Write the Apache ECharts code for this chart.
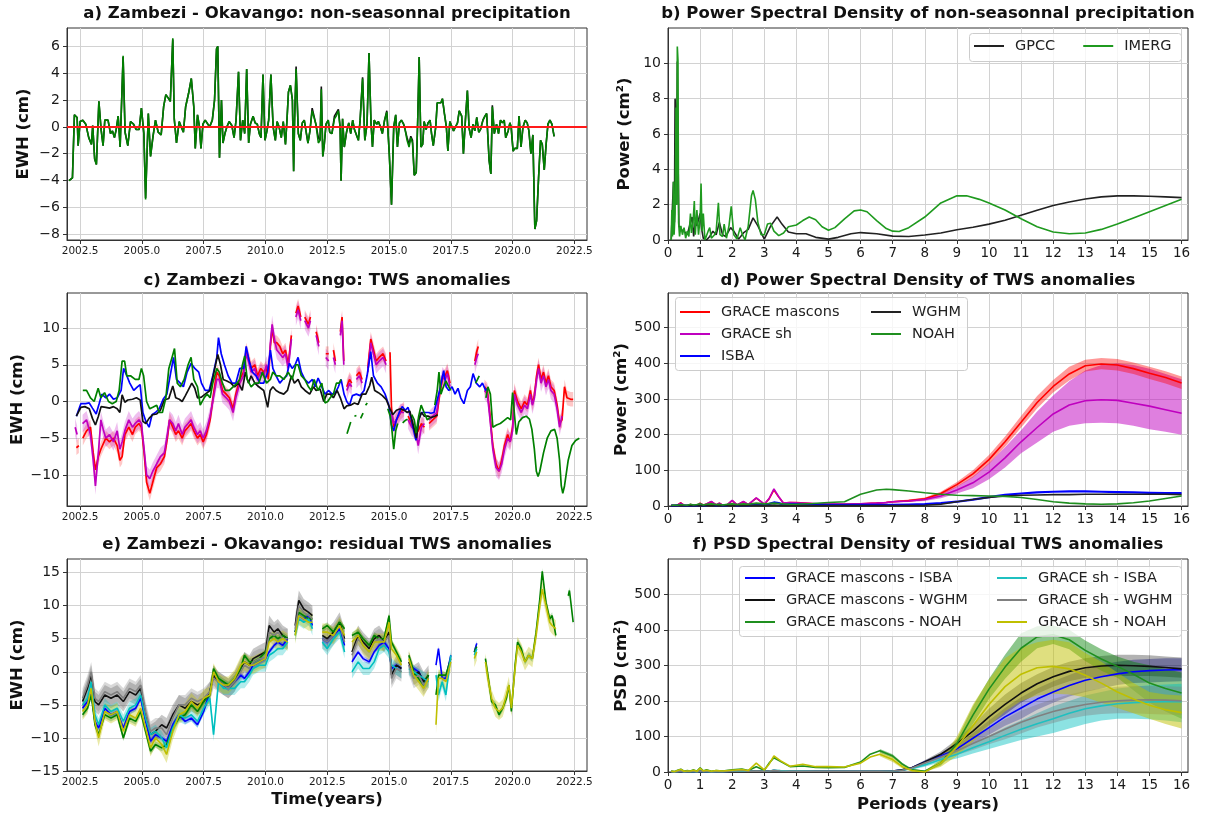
<!DOCTYPE html>
<html><head><meta charset="utf-8">
<script src="https://cdn.jsdelivr.net/npm/echarts@6/dist/echarts.min.js"></script>
<style>html,body{margin:0;padding:0;background:#fff}#c{width:1212px;height:816px}</style>
</head><body><div id="c"></div>
<script>
// ================= DATA =================
const yearTicks = [2002.5, 2005, 2007.5, 2010, 2012.5, 2015, 2017.5, 2020, 2022.5];
const periodTicks = [0,1,2,3,4,5,6,7,8,9,10,11,12,13,14,15,16];
const aTicks = [-8,-6,-4,-2,0,2,4,6];
const bTicks = [0,2,4,6,8,10];
const cTicks = [-10,-5,0,5,10];
const dTicks = [0,100,200,300,400,500];
const eTicks = [-15,-10,-5,0,5,10,15];
const fTicks = [0,100,200,300,400,500];

// ---- a) non-seasonal precipitation (cm) ----
const aTime = [
2002.05,2002.19,2002.27,2002.38,2002.42,2002.50,2002.61,2002.73,2002.85,2002.96,
2003.01,2003.09,2003.16,2003.26,2003.35,2003.43,2003.50,2003.63,2003.73,2003.81,
2003.89,2003.96,2004.04,2004.12,2004.24,2004.32,2004.43,2004.54,2004.66,2004.77,
2004.89,2004.98,2005.08,2005.15,2005.26,2005.35,2005.45,2005.55,2005.66,2005.78,
2005.88,2005.97,2006.08,2006.15,2006.25,2006.31,2006.40,2006.51,2006.59,2006.68,
2006.77,2006.89,2007.00,2007.10,2007.16,2007.25,2007.33,2007.39,2007.47,2007.56,
2007.67,2007.74,2007.85,2007.94,2008.02,2008.07,2008.14,2008.22,2008.28,2008.36,
2008.44,2008.53,2008.64,2008.73,2008.81,2008.91,2008.99,2009.08,2009.16,2009.24,
2009.32,2009.39,2009.50,2009.58,2009.67,2009.75,2009.82,2009.90,2009.98,2010.06,
2010.13,2010.22,2010.31,2010.40,2010.47,2010.55,2010.64,2010.72,2010.81,2010.87,
2010.93,2011.01,2011.09,2011.14,2011.18,2011.24,2011.33,2011.41,2011.49,2011.57,
2011.64,2011.72,2011.80,2011.89,2011.97,2012.04,2012.14,2012.21,2012.26,2012.32,
2012.38,2012.45,2012.54,2012.60,2012.69,2012.79,2012.86,2012.95,2013.02,2013.06,
2013.12,2013.19,2013.28,2013.37,2013.45,2013.53,2013.60,2013.68,2013.76,2013.83,
2013.93,2014.02,2014.11,2014.19,2014.27,2014.33,2014.40,2014.50,2014.57,2014.65,
2014.73,2014.82,2014.91,2015.01,2015.10,2015.19,2015.27,2015.34,2015.42,2015.50,
2015.59,2015.65,2015.73,2015.81,2015.88,2015.95,2016.02,2016.10,2016.16,2016.22,
2016.29,2016.36,2016.42,2016.50,2016.58,2016.66,2016.72,2016.79,2016.89,2016.95,
2017.03,2017.10,2017.16,2017.24,2017.32,2017.38,2017.46,2017.53,2017.61,2017.69,
2017.77,2017.84,2017.94,2018.01,2018.09,2018.17,2018.24,2018.32,2018.40,2018.47,
2018.55,2018.63,2018.70,2018.80,2018.88,2018.95,2019.05,2019.12,2019.18,2019.26,
2019.35,2019.43,2019.51,2019.59,2019.66,2019.72,2019.82,2019.89,2019.94,2020.02,
2020.09,2020.19,2020.26,2020.34,2020.42,2020.51,2020.59,2020.66,2020.74,2020.82,
2020.90,2020.97,2021.05,2021.13,2021.20,2021.28,2021.36,2021.43,2021.51,2021.59,
2021.68];
const aImerg = [
-4.0,-3.8,0.9,0.7,-1.4,0.4,0.5,0.2,-0.8,-1.3,
0.1,-2.4,-2.8,1.9,-0.2,-1.4,0.5,0.5,-0.5,-0.3,
-0.8,-0.2,0.8,-1.5,5.3,-0.4,-1.4,0.4,0.2,-0.2,
-0.2,1.4,-0.5,-5.4,1.0,-2.2,-0.7,0.5,-0.4,-0.6,
1.5,2.4,2.1,1.9,6.6,0.6,-1.2,0.4,0.0,-0.4,
1.5,2.5,3.6,1.5,-1.6,0.9,0.0,-1.6,0.2,0.5,
0.2,0.0,0.5,2.0,5.8,6.0,-2.3,2.0,-1.2,-0.5,
0.0,0.4,0.1,-0.8,0.5,4.1,-1.0,0.5,-0.5,4.3,
-1.2,0.2,0.8,0.3,0.2,-0.5,-0.8,3.9,-1.0,-0.3,
0.5,3.9,0.0,-1.0,0.4,0.0,-0.8,0.4,-1.3,0.5,
2.6,3.1,2.0,-3.3,0.6,4.3,-0.5,-1.0,0.3,0.5,
-0.3,-1.2,-0.3,1.2,1.2,0.2,-1.2,-1.0,2.8,-2.2,
-1.3,0.2,0.5,-0.4,-0.5,0.6,0.8,1.2,0.0,-4.0,
0.6,-1.5,-0.4,0.3,-0.5,0.5,-0.2,-0.3,-1.0,0.5,
3.6,-1.0,0.2,5.5,0.3,-1.5,0.5,0.2,0.4,0.0,
-0.5,0.5,1.1,-2.0,-5.8,0.0,0.9,-1.5,0.3,0.5,
0.2,-0.2,-1.0,-1.5,-0.8,-1.2,-3.6,-3.4,0.5,5.2,
-1.5,-1.3,0.4,-0.2,0.3,0.5,-0.5,-1.4,0.0,1.8,
1.7,1.8,2.1,1.0,0.0,-1.8,0.4,0.4,-0.3,-0.3,
0.3,1.2,0.8,-2.0,0.5,2.7,-0.1,-0.8,0.2,-0.3,
0.7,-0.4,-0.2,0.5,0.8,1.0,-2.5,-3.5,1.5,-0.5,
0.2,-0.5,0.5,0.3,0.5,-0.8,-0.3,0.3,0.0,-1.8,
-1.6,-1.6,0.8,-1.5,0.0,0.5,0.3,-0.3,-2.0,-0.6,
-7.6,-7.0,-3.8,-1.0,-1.3,-3.2,-1.2,0.2,0.5,0.2,
-0.7];
const aGpcc = [
-4.0,-3.8,0.9,0.7,-1.4,0.4,0.5,0.2,-0.8,-1.3,
0.1,-2.4,-2.8,1.9,-0.2,-1.4,0.5,0.5,-0.5,-0.3,
-0.8,-0.2,0.8,-1.5,5.2,-0.4,-1.4,0.4,0.2,-0.2,
-0.2,1.4,-0.5,-5.3,1.0,-2.2,-0.7,0.5,-0.4,-0.6,
1.5,2.4,2.1,1.9,6.5,0.6,-1.2,0.4,0.0,-0.4,
1.5,2.5,3.6,1.5,-1.6,0.9,0.0,-1.6,0.2,0.5,
0.2,0.0,0.5,2.0,5.8,6.0,-2.3,2.0,-1.2,-0.5,
0.0,0.4,0.1,-0.8,0.5,4.1,-1.0,0.5,-0.5,4.3,
-1.2,0.2,0.8,0.3,0.2,-0.5,-0.8,3.9,-1.0,-0.3,
0.5,3.9,0.0,-1.0,0.4,0.0,-0.8,0.4,-1.3,0.5,
2.6,3.1,2.0,-3.3,0.6,4.5,-0.5,-1.0,0.3,0.5,
-0.3,-1.2,-0.3,1.4,1.4,0.2,-0.8,-1.0,3.0,-2.2,
-1.3,0.2,0.5,-0.4,-0.5,0.8,0.9,1.3,0.0,-4.0,
0.6,-1.5,-0.4,0.3,-0.5,0.5,-0.2,-0.3,-1.0,0.5,
3.7,-1.0,0.2,5.5,0.3,-1.5,0.5,0.2,0.4,0.0,
-0.5,0.5,1.2,-2.0,-5.8,0.0,0.9,-1.5,0.3,0.5,
0.2,-0.2,-0.8,-1.3,-0.7,-1.0,-3.6,-3.4,0.5,5.2,
-1.5,-1.3,0.4,-0.2,0.3,0.5,-0.5,-1.4,0.0,1.8,
1.7,1.8,2.1,1.0,0.0,-1.8,0.4,0.4,-0.3,-0.3,
0.3,1.2,0.8,-2.0,0.5,2.7,-0.1,-0.8,0.2,-0.3,
0.7,-0.4,-0.2,0.5,0.8,1.0,-2.5,-3.5,1.6,-0.5,
0.2,-0.5,0.5,0.3,0.5,-0.8,-0.3,0.3,0.0,-1.8,
-1.6,-1.6,0.8,-1.5,0.0,0.5,0.3,-0.3,-2.0,-0.6,
-7.6,-7.0,-3.8,-1.0,-1.3,-3.2,-1.2,0.2,0.5,0.2,
-0.7];

// ---- b) PSD of precipitation: [period (years), power (cm^2)] ----
const bImerg = [[0.1,0],[0.12,1.7],[0.14,0.2],[0.17,3.3],[0.19,0.3],[0.22,1.5],[0.25,7.5],[0.27,2],[0.29,10.95],[0.31,10.2],[0.33,1.0],[0.36,0.2],[0.4,0.8],[0.45,0.3],[0.5,0.7],[0.55,0.1],[0.6,0.5],[0.65,0.2],[0.7,1.5],[0.73,0.4],[0.78,1.0],[0.82,2.2],[0.85,0.3],[0.9,1.7],[0.95,0.3],[1.0,1.2],[1.03,3.2],[1.06,0.5],[1.1,1.5],[1.15,0.0],[1.25,0.5],[1.3,0.7],[1.35,0.1],[1.45,0.3],[1.5,0.5],[1.57,2.1],[1.62,0.3],[1.7,0.2],[1.75,0.9],[1.82,0.1],[1.9,0.8],[1.97,1.9],[2.05,0.3],[2.15,0.05],[2.25,0.7],[2.32,0.3],[2.4,0.0],[2.5,0.8],[2.6,2.5],[2.65,2.8],[2.72,2.3],[2.8,1.0],[2.9,0.3],[3.0,0.3],[3.1,0.9],[3.2,0.95],[3.3,0.5],[3.45,0.25],[3.6,0.4],[3.75,0.75],[4.0,0.85],[4.2,1.1],[4.4,1.3],[4.6,1.15],[4.8,0.75],[5.0,0.55],[5.2,0.7],[5.5,1.2],[5.8,1.65],[6.0,1.7],[6.2,1.6],[6.5,1.1],[6.8,0.65],[7.0,0.5],[7.2,0.48],[7.5,0.7],[8.0,1.3],[8.5,2.1],[9.0,2.5],[9.3,2.5],[9.7,2.3],[10,2.1],[10.5,1.7],[11,1.2],[11.5,0.75],[12,0.45],[12.5,0.35],[13,0.4],[13.5,0.6],[14,0.9],[14.5,1.25],[15,1.6],[15.5,1.95],[16,2.3]];
const bGpcc = [[0.1,0],[0.13,1.5],[0.17,3.3],[0.2,1],[0.22,8.0],[0.24,7.4],[0.27,2],[0.29,10.1],[0.31,5],[0.34,0.8],[0.4,0.6],[0.5,0.5],[0.6,0.3],[0.7,1.0],[0.75,1.3],[0.8,0.2],[0.85,1.0],[0.9,0.8],[1.0,1.5],[1.05,0.6],[1.1,0.1],[1.2,0.0],[1.3,0.2],[1.4,0.5],[1.5,0.3],[1.6,1.0],[1.7,0.3],[1.8,0.2],[1.95,0.7],[2.05,0.5],[2.2,0.05],[2.35,0.4],[2.5,0.6],[2.65,1.25],[2.8,0.8],[3.0,0.05],[3.2,0.8],[3.4,1.3],[3.55,0.9],[3.75,0.45],[4.0,0.35],[4.3,0.35],[4.6,0.15],[5.0,0.05],[5.3,0.15],[5.7,0.35],[6.0,0.42],[6.5,0.35],[7.0,0.22],[7.5,0.2],[8.0,0.28],[8.5,0.4],[9.0,0.58],[9.5,0.72],[10,0.9],[10.5,1.12],[11,1.4],[11.5,1.68],[12,1.95],[12.5,2.15],[13,2.32],[13.5,2.44],[14,2.5],[14.5,2.5],[15,2.48],[15.5,2.44],[16,2.4]];

// ---- c) TWS anomalies (cm): [year, value], null = gap ----
const cMascons = [[2002.35,-6.3],[2002.45,-6.0],null,[2002.61,-5.0],[2002.76,-4.0],[2002.92,-3.5],[2003.03,-7.0],[2003.12,-9.3],[2003.24,-7.5],[2003.34,-6.5],[2003.54,-5.0],[2003.69,-5.5],[2003.85,-5.0],[2004.0,-6.0],[2004.11,-8.0],[2004.2,-7.5],[2004.31,-4.5],[2004.47,-3.5],[2004.62,-4.5],[2004.73,-3.5],[2004.88,-3.0],[2004.98,-3.5],[2005.09,-7.0],[2005.19,-11.0],[2005.32,-12.5],[2005.44,-11.0],[2005.6,-9.0],[2005.75,-8.5],[2005.91,-7.5],[2006.03,-5.0],[2006.12,-2.5],[2006.25,-3.5],[2006.37,-4.5],[2006.48,-4.0],[2006.63,-5.0],[2006.74,-4.0],[2006.87,-3.5],[2006.99,-3.0],[2007.1,-4.0],[2007.25,-5.0],[2007.36,-4.5],[2007.48,-5.5],[2007.61,-4.5],[2007.76,-2.5],[2007.92,1.5],[2008.03,4.0],[2008.13,3.5],[2008.26,1.5],[2008.41,1.0],[2008.54,0.5],[2008.69,-1.0],[2008.8,1.0],[2008.96,3.0],[2009.11,4.0],[2009.22,7.0],[2009.31,6.0],[2009.42,4.5],[2009.57,5.0],[2009.68,3.5],[2009.81,4.5],[2009.93,4.0],[2010.04,4.5],[2010.12,3.0],[2010.2,7.5],[2010.27,10.0],[2010.36,8.0],[2010.46,8.0],[2010.58,7.5],[2010.7,6.5],[2010.81,7.0],[2010.92,5.0],[2011.05,9.0],null,[2011.23,12.0],[2011.32,13.0],[2011.43,11.5],null,[2011.59,11.5],[2011.74,10.5],[2011.82,11.5],null,[2012.05,9.5],[2012.16,8.0],null,[2012.44,6.5],[2012.56,6.5],null,[2012.75,7.0],[2012.83,5.5],null,[2013.03,9.5],[2013.1,11.5],[2013.17,5.5],null,[2013.29,2.0],[2013.4,3.0],[2013.49,2.5],null,[2013.68,3.5],[2013.8,4.0],[2013.91,3.0],null,[2014.14,4.5],[2014.26,8.5],[2014.37,7.0],[2014.48,5.5],[2014.6,6.0],[2014.76,6.5],[2014.88,5.5],null,[2015.04,6.7],[2015.1,-1.0],[2015.19,-3.5],[2015.3,-2.5],[2015.46,-1.5],[2015.61,-1.0],null,[2015.77,-2.0],[2015.92,-3.0],[2016.08,-4.5],[2016.18,-4.0],[2016.31,-3.0],[2016.43,-3.5],null,[2016.62,-3.0],[2016.77,-2.5],[2016.93,-2.0],[2017.05,1.0],[2017.16,3.0],[2017.27,3.5],[2017.36,4.2],[2017.47,2.5],null,[2018.47,5.5],[2018.55,6.8],[2018.61,7.5],null,[2018.86,2.0],[2018.98,1.5],[2019.09,-2.0],[2019.2,-6.0],[2019.33,-8.5],[2019.45,-9.5],[2019.56,-8.0],[2019.67,-6.0],[2019.8,-4.5],[2019.9,-5.5],[2020.0,-3.5],[2020.07,1.5],[2020.2,0.0],[2020.35,-1.0],[2020.48,0.0],[2020.6,-0.5],[2020.72,1.5],[2020.8,-0.3],[2020.88,0.8],[2020.97,3.5],[2021.05,5.0],[2021.15,3.0],[2021.25,4.0],[2021.35,2.5],[2021.45,3.5],[2021.55,2.0],[2021.68,1.5],[2021.8,-0.5],[2021.9,-3.0],[2022.0,-2.5],[2022.1,2.0],[2022.2,0.5],[2022.35,0.3],[2022.45,0.3]];
const cSh = [[2002.3,-3.5],[2002.38,-4.5],null,[2002.6,-3.0],[2002.76,-2.5],[2002.92,-4.5],[2003.03,-8.0],[2003.12,-11.5],[2003.24,-7.0],[2003.34,-2.5],[2003.45,-4.0],[2003.54,-5.0],[2003.69,-4.5],[2003.85,-5.5],[2004.0,-4.0],[2004.11,-6.5],[2004.2,-5.5],[2004.31,-4.0],[2004.47,-2.5],[2004.62,-3.5],[2004.73,-3.0],[2004.88,-2.5],[2004.98,-3.0],[2005.09,-6.5],[2005.19,-10.0],[2005.32,-10.5],[2005.44,-9.5],[2005.6,-8.5],[2005.75,-7.5],[2005.91,-7.0],[2006.03,-4.5],[2006.12,-2.5],[2006.25,-3.0],[2006.37,-4.0],[2006.48,-3.0],[2006.63,-4.5],[2006.74,-3.5],[2006.87,-3.0],[2006.99,-2.5],[2007.1,-3.5],[2007.25,-4.5],[2007.36,-4.0],[2007.48,-5.0],[2007.61,-4.0],[2007.76,-2.0],[2007.92,1.0],[2008.03,3.0],[2008.13,3.0],[2008.26,1.0],[2008.41,0.5],[2008.54,0.0],[2008.69,-1.5],[2008.8,0.5],[2008.96,2.5],[2009.11,3.5],[2009.22,6.5],[2009.31,5.5],[2009.42,4.0],[2009.57,4.5],[2009.68,3.0],[2009.81,4.0],[2009.93,3.5],[2010.04,5.0],[2010.12,4.0],[2010.2,8.0],[2010.27,10.5],[2010.36,8.5],[2010.46,7.0],[2010.58,6.5],[2010.7,6.0],[2010.81,6.5],[2010.92,4.5],[2011.05,8.5],null,[2011.23,11.5],[2011.32,12.5],[2011.43,11.0],null,[2011.59,11.0],[2011.74,10.0],[2011.82,11.0],null,[2012.05,9.0],[2012.16,7.5],null,[2012.44,6.0],[2012.56,5.5],null,[2012.75,6.0],[2012.83,5.0],null,[2013.03,9.0],[2013.1,11.0],[2013.17,5.0],null,[2013.29,1.5],[2013.4,2.5],[2013.49,2.0],null,[2013.68,3.0],[2013.8,3.5],[2013.91,2.5],null,[2014.14,4.0],[2014.26,8.0],[2014.37,6.5],[2014.48,5.0],[2014.6,5.5],[2014.76,6.0],[2014.88,5.0],null,[2015.1,-1.5],[2015.19,-3.0],[2015.3,-2.5],[2015.46,-1.5],[2015.61,-1.5],null,[2015.77,-2.5],[2015.92,-3.5],[2016.08,-4.0],[2016.18,-6.0],[2016.31,-3.5],[2016.43,-3.0],null,[2016.62,-2.5],[2016.77,-2.0],[2016.93,-1.5],[2017.05,1.5],[2017.16,3.5],[2017.27,3.0],[2017.36,3.8],[2017.47,2.0],null,[2018.47,5.0],[2018.55,6.0],[2018.61,6.5],null,[2018.86,1.5],[2018.98,1.0],[2019.09,-2.5],[2019.2,-6.5],[2019.33,-9.0],[2019.45,-9.5],[2019.56,-8.5],[2019.67,-6.5],[2019.8,-5.0],[2019.9,-5.5],[2020.0,-4.0],[2020.07,1.0],[2020.2,-0.5],[2020.35,-1.5],[2020.48,-0.5],[2020.6,-1.0],[2020.72,1.0],[2020.8,-0.5],[2020.88,0.5],[2020.97,3.0],[2021.05,4.5],[2021.15,2.5],[2021.25,3.5],[2021.35,2.0],[2021.45,3.0],[2021.55,1.5],[2021.68,1.0],[2021.8,-1.0],[2021.9,-3.5],[2022.0,-2.0]];
const cIsba = [[2002.35,-2.0],[2002.53,-0.3],[2002.72,-0.3],[2002.87,-0.2],[2003.0,-0.9],[2003.15,-1.7],[2003.27,-0.3],[2003.38,1.0],[2003.54,0.5],[2003.69,1.0],[2003.85,0.3],[2004.0,0.5],[2004.16,1.5],[2004.26,4.5],[2004.39,3.5],[2004.51,2.5],[2004.67,1.5],[2004.82,2.0],[2004.93,2.3],[2005.04,-1.5],[2005.16,-2.7],[2005.29,-3.5],[2005.41,-1.8],[2005.55,-1.5],[2005.7,-1.0],[2005.86,0.3],[2006.01,1.0],[2006.17,4.0],[2006.28,6.0],[2006.4,3.0],[2006.55,2.5],[2006.68,2.0],[2006.83,4.0],[2006.99,5.2],[2007.14,4.5],[2007.3,4.0],[2007.41,2.5],[2007.56,1.5],[2007.72,1.5],[2007.87,3.5],[2008.03,6.0],[2008.1,8.7],[2008.21,6.5],[2008.34,5.0],[2008.49,3.5],[2008.65,2.5],[2008.8,2.5],[2008.96,4.5],[2009.12,4.5],[2009.22,7.5],[2009.34,5.5],[2009.47,4.0],[2009.62,3.5],[2009.78,2.5],[2009.93,2.5],[2010.09,4.0],[2010.2,7.0],[2010.3,4.5],[2010.43,3.5],[2010.58,2.5],[2010.7,3.0],[2010.86,3.5],[2010.97,5.2],[2011.08,4.5],[2011.2,5.0],[2011.32,6.0],[2011.45,4.0],[2011.59,3.0],[2011.74,2.5],[2011.9,3.0],[2012.01,2.0],[2012.13,3.2],[2012.28,2.0],[2012.41,1.0],[2012.56,1.5],[2012.69,1.0],[2012.83,1.2],[2012.95,2.0],[2013.06,3.0],[2013.18,1.0],[2013.29,0.0],[2013.4,-0.5],[2013.52,0.8],[2013.68,1.0],[2013.83,0.8],[2013.99,1.5],[2014.11,3.5],[2014.26,6.8],[2014.37,3.5],[2014.53,2.5],[2014.68,2.0],[2014.84,1.0],[2014.99,-0.5],[2015.1,-3.2],[2015.19,-4.0],[2015.3,-2.5],[2015.41,-1.5],[2015.53,-0.7],[2015.66,-1.2],[2015.77,-0.8],[2015.87,-2.0],[2016.0,-4.0],[2016.09,-5.3],[2016.2,-2.5],[2016.31,-1.5],[2016.43,-1.5],[2016.59,-1.5],[2016.69,-1.6],[2016.82,-1.5],[2016.93,0.0],[2017.05,1.5],[2017.21,4.2],[2017.31,2.0],[2017.42,1.5],[2017.55,2.0],[2017.67,1.0],[2017.79,1.8],[2017.9,0.5],[2018.03,-0.3],[2018.17,1.5],[2018.29,2.0],[2018.4,3.8],[2018.53,2.5],[2018.67,2.0],[2018.78,2.5],[2018.91,1.5],[2019.0,1.8]];
const cWghm = [[2002.35,-2.0],[2002.53,-0.8],[2002.69,-0.7],[2002.87,-1.0],[2003.0,-2.3],[2003.12,-3.2],[2003.24,-2.0],[2003.35,-0.7],[2003.54,-0.8],[2003.69,-0.9],[2003.85,-0.7],[2004.0,-1.0],[2004.11,-1.5],[2004.2,0.9],[2004.31,-0.1],[2004.43,0.2],[2004.62,0.3],[2004.78,0.5],[2004.93,0.2],[2005.04,-2.7],[2005.16,-3.0],[2005.29,-2.3],[2005.44,-1.8],[2005.6,-1.7],[2005.75,-1.2],[2005.91,0.2],[2006.09,0.4],[2006.25,2.1],[2006.37,0.5],[2006.51,0.3],[2006.63,0.0],[2006.76,0.8],[2006.87,1.5],[2007.02,2.5],[2007.14,1.8],[2007.25,0.5],[2007.41,0.6],[2007.56,1.0],[2007.76,1.5],[2007.95,4.5],[2008.07,6.4],[2008.18,5.0],[2008.29,3.0],[2008.44,2.8],[2008.6,2.5],[2008.75,2.0],[2008.91,2.5],[2009.06,1.5],[2009.19,4.0],[2009.31,2.5],[2009.42,3.5],[2009.57,2.5],[2009.73,2.0],[2009.93,1.5],[2010.09,-0.8],[2010.19,1.5],[2010.3,2.0],[2010.43,1.5],[2010.58,1.2],[2010.74,1.0],[2010.89,1.5],[2011.05,3.5],[2011.17,2.5],[2011.32,3.0],[2011.45,2.0],[2011.6,1.5],[2011.79,1.0],[2011.94,2.0],[2012.05,1.5],[2012.21,1.7],[2012.36,0.0],[2012.48,1.0],[2012.62,1.0],[2012.75,0.5],[2012.9,1.5],[2013.03,0.5],[2013.18,-1.0],[2013.29,-0.6],[2013.44,-0.5],[2013.6,-0.2],[2013.75,-0.4],[2013.91,1.0],[2014.06,1.0],[2014.22,2.2],[2014.3,3.3],[2014.42,1.5],[2014.57,1.2],[2014.73,0.8],[2014.88,0.3],[2015.04,-1.0],[2015.15,-1.8],[2015.3,-1.2],[2015.46,-1.0],[2015.61,-1.2],[2015.74,-1.5],[2015.84,-1.3],[2016.0,-3.5],[2016.11,-5.0],[2016.2,-2.5],[2016.31,-1.5],[2016.43,-2.0],[2016.59,-2.0],[2016.69,-2.2],[2016.85,-2.0],[2016.97,-1.8]];
const cNoah = [[2002.61,1.5],[2002.76,1.5],[2002.92,0.5],[2003.07,0.0],[2003.23,1.8],[2003.34,0.5],[2003.49,1.2],[2003.65,0.0],[2003.8,-0.3],[2003.96,0.0],[2004.08,1.5],[2004.2,5.5],[2004.3,5.5],[2004.39,3.5],[2004.54,3.5],[2004.73,3.0],[2004.88,3.0],[2004.98,4.5],[2005.07,3.5],[2005.19,0.0],[2005.32,-1.0],[2005.44,-0.8],[2005.6,-0.5],[2005.7,-1.5],[2005.83,-1.5],[2005.97,0.5],[2006.09,4.5],[2006.22,6.0],[2006.32,7.2],[2006.43,2.5],[2006.56,2.0],[2006.71,3.0],[2006.87,5.0],[2006.99,6.0],[2007.1,3.0],[2007.25,2.0],[2007.36,-0.5],[2007.52,0.5],[2007.64,1.0],[2007.76,0.5],[2007.87,2.5],[2008.03,4.5],[2008.13,4.0],[2008.26,2.5],[2008.38,1.5],[2008.54,1.5],[2008.69,2.0],[2008.85,2.5],[2008.96,3.0],[2009.07,5.0],[2009.16,6.2],[2009.26,3.0],[2009.42,2.0],[2009.57,2.5],[2009.73,2.5],[2009.88,4.0],[2010.04,2.5],[2010.2,3.0],[2010.3,4.0],[2010.43,3.5],[2010.58,3.5],[2010.74,3.0],[2010.92,4.0],[2011.08,3.0],[2011.23,5.0],[2011.32,5.0],[2011.45,3.5],[2011.59,3.0],[2011.74,2.0],[2011.85,1.5],[2011.97,3.0],[2012.13,1.5],[2012.28,2.5],[2012.41,-0.2],[2012.52,0.0],[2012.62,0.5],[2012.75,1.0],[2012.87,2.5],[2012.98,2.5],[2013.06,3.0],null,[2013.3,-4.4],[2013.45,-2.8],null,[2013.6,-2.0],[2013.68,-1.9],null,[2013.85,-2.3],[2013.95,-1.6],null,[2014.05,-0.5],[2014.12,-0.2],null,[2014.95,-1.0],[2015.05,-2.0],[2015.12,-4.0],[2015.19,-6.5],[2015.27,-4.0],[2015.35,-3.0],null,[2015.55,-2.9],[2015.65,-2.6],[2015.75,-2.4],null,[2015.92,-1.8],[2016.02,-2.5],[2016.1,-4.3],[2016.2,-2.0],[2016.3,-0.5],[2016.42,-1.5],[2016.55,-2.5],[2016.65,-2.2],null,[2016.85,-0.5],[2016.95,1.5],[2017.02,4.0],[2017.1,1.0],[2017.2,2.0],[2017.3,2.8],[2017.42,2.0],[2017.5,1.5],null,[2018.5,2.5],[2018.58,3.0],[2018.65,3.5],null,[2018.92,0.5],[2019.0,2.0],[2019.1,1.0],[2019.2,-3.5],[2019.35,-3.2],[2019.5,-3.0],[2019.65,-2.6],[2019.8,-2.2],[2019.92,-2.5],[2020.0,1.2],[2020.08,-2.0],[2020.15,-4.5],[2020.25,-2.8],[2020.4,-2.2],[2020.55,-2.0],[2020.68,-2.4],[2020.78,-3.8],[2020.88,-6.5],[2020.96,-9.5],[2021.03,-10.2],[2021.1,-9.5],[2021.25,-7.0],[2021.4,-5.0],[2021.55,-4.0],[2021.7,-3.8],[2021.8,-5.0],[2021.9,-8.0],[2021.97,-11.5],[2022.03,-12.5],[2022.1,-11.5],[2022.25,-8.0],[2022.4,-6.0],[2022.55,-5.3],[2022.7,-5.0]];
const cMasconsSigma = 1.0;
const cShSigma = 1.2;

// ---- e) residual TWS anomalies (cm), common time grid, null = gap ----
const eTime = [
2002.6,2002.8,2002.95,2003.1,2003.25,2003.5,2003.75,2004.0,2004.25,2004.5,
2004.75,2004.95,2005.15,2005.35,2005.55,2005.8,2006.0,2006.25,2006.5,2006.75,
2007.0,2007.25,2007.5,2007.75,2007.9,2008.1,2008.3,2008.5,2008.75,2009.0,
2009.15,2009.35,2009.5,2009.75,2010.0,2010.15,2010.35,2010.5,2010.7,2010.9,
2011.0,2011.2,2011.35,2011.55,2011.75,2011.9,2012.1,2012.3,2012.5,2012.75,
2013.0,2013.2,2013.35,2013.5,2013.75,2013.95,2014.2,2014.4,2014.6,2014.8,
2015.0,2015.1,2015.3,2015.5,2015.65,2015.8,2016.0,2016.2,2016.4,2016.6,
2016.75,2016.9,2017.0,2017.15,2017.3,2017.5,2018.0,2018.45,2018.55,2018.7,
2018.9,2019.0,2019.15,2019.3,2019.45,2019.6,2019.75,2019.85,2019.95,2020.1,
2020.2,2020.35,2020.5,2020.65,2020.8,2020.95,2021.1,2021.2,2021.35,2021.5,
2021.6,2021.75,2022.0,2022.25,2022.3,2022.45];
const eMasIsba = [
-5.5,-4.5,-3.0,-7.5,-8.5,-5.5,-6.5,-6.0,-8.5,-6.0,
-5.5,-4.0,-7.5,-10.5,-9.5,-10.0,-10.5,-8.0,-6.5,-7.5,
-7.0,-8.0,-6.0,-3.0,-0.5,-1.5,-2.0,-2.5,-1.5,-0.5,
-1.0,0.0,1.0,1.5,2.0,3.0,4.0,4.5,4.0,5.0,
null,6.0,8.5,8.0,8.5,7.0,null,5.0,4.5,5.5,
6.5,4.0,null,1.5,3.0,2.0,1.5,3.0,4.0,4.5,
3.5,0.5,1.0,0.5,null,1.0,0.5,0.0,-1.5,-1.0,
null,1.0,3.5,-1.0,-1.0,2.5,null,3.0,4.3,null,
null,null,null,null,null,null,null,null,null,null,
null,null,null,null,null,null,null,null,null,null,
null,null,null,null,null,null];
const eMasWghm = [
-4.5,-2.5,-0.5,-4.5,-5.0,-3.5,-4.0,-3.5,-4.5,-3.0,
-3.5,-2.5,-6.5,-9.5,-9.0,-8.0,-8.5,-6.5,-5.0,-5.5,
-4.5,-5.0,-4.5,-3.0,-0.5,-1.5,-2.0,-2.5,-1.5,0.5,
1.5,1.0,2.0,2.5,3.0,7.0,6.0,6.5,5.5,5.0,
null,7.0,10.8,9.5,9.0,8.5,null,5.5,5.0,6.0,
7.5,5.0,null,3.0,5.5,4.5,3.5,5.0,5.5,4.5,
6.0,-0.5,1.0,0.5,null,1.5,-0.5,0.0,-1.5,-0.5,
null,null,null,null,null,null,null,null,null,null,
null,null,null,null,null,null,null,null,null,null,
null,null,null,null,null,null,null,null,null,null,
null,null,null,null,null,null];
const eMasNoah = [
-6.5,-5.5,-3.5,-8.0,-9.5,-6.5,-7.0,-6.5,-10.0,-7.0,
-7.5,-6.0,-9.0,-12.0,-11.0,-11.5,-11.0,-8.5,-7.0,-6.5,
-5.0,-6.0,-4.5,-3.5,0.5,-1.0,-1.5,-2.0,-1.0,0.5,
2.5,1.5,1.5,2.0,3.0,5.0,5.5,5.0,5.5,5.0,
null,6.0,9.0,8.5,8.0,8.0,null,6.5,7.0,6.0,
7.5,6.5,null,5.5,6.0,5.0,4.0,5.5,5.0,5.0,
8.5,4.5,3.0,1.5,null,2.5,0.0,-1.0,-2.0,-0.5,
null,-3.5,-0.5,-0.5,-0.5,2.0,null,3.0,3.8,null,
2.0,-0.5,-4.5,-5.0,-6.5,-5.5,-4.0,-2.0,-6.0,1.0,
4.5,3.5,1.5,2.5,2.0,6.0,11.0,15.2,10.5,8.0,
8.5,5.5,null,11.5,12.3,7.5];
const eShIsba = [
-5.0,-4.0,-1.5,-6.5,-8.0,-5.0,-6.0,-5.5,-7.5,-5.5,
-5.0,-3.5,-7.0,-9.5,-9.0,-10.0,-11.5,-8.5,-6.5,-7.0,
-6.5,-7.5,-5.5,-4.0,-9.5,-1.5,-2.5,-2.5,-2.5,-1.5,
-1.5,-0.5,0.5,1.0,1.0,2.5,3.0,3.5,3.5,4.5,
null,5.5,8.0,7.5,8.0,6.5,null,4.5,3.5,5.0,
6.0,3.0,null,0.0,1.5,0.5,0.5,1.5,3.5,4.0,
3.0,1.0,0.5,0.0,null,0.5,0.0,-0.5,-1.0,-1.5,
null,-0.5,-3.5,-1.5,-3.5,2.5,null,2.5,3.5,null,
null,null,null,null,null,null,null,null,null,null,
null,null,null,null,null,null,null,null,null,null,
null,null,null,null,null,null];
const eShWghm = [
-4.0,-2.0,0.0,-4.0,-4.5,-3.0,-3.5,-3.0,-4.0,-2.5,
-3.0,-2.0,-6.0,-9.0,-8.5,-8.5,-9.5,-7.0,-5.0,-5.0,
-4.0,-4.5,-4.0,-3.0,-1.0,-1.5,-2.0,-2.5,-1.5,0.0,
1.0,0.5,1.5,2.0,2.0,6.0,5.5,6.0,5.0,5.0,
null,6.5,10.0,9.0,8.5,8.0,null,5.0,4.5,5.5,
7.0,4.5,null,2.5,5.0,4.0,3.0,4.5,5.0,4.5,
5.5,-1.0,0.5,0.0,null,1.0,-1.0,-0.5,-2.0,-1.0,
null,null,null,null,null,null,null,null,null,null,
null,null,null,null,null,null,null,null,null,null,
null,null,null,null,null,null,null,null,null,null,
null,null,null,null,null,null];
const eShNoah = [
-6.0,-5.0,-2.5,-7.5,-10.0,-6.0,-6.5,-6.0,-9.0,-6.5,
-7.0,-5.5,-8.5,-11.5,-10.0,-11.0,-12.5,-9.0,-6.5,-6.0,
-4.5,-5.5,-4.0,-3.5,0.0,-1.5,-2.0,-2.0,-1.0,1.0,
1.5,1.0,1.0,1.5,2.0,4.5,5.0,4.5,5.0,4.5,
null,5.5,8.5,8.0,7.5,7.5,null,6.0,6.0,5.5,
7.0,5.5,null,4.5,5.5,4.0,3.0,4.5,4.5,4.5,
7.5,3.5,2.5,1.0,null,2.0,-0.5,-1.5,-2.5,-1.0,
null,-8.0,-1.0,-1.0,-1.5,1.5,null,2.0,3.0,null,
1.5,-1.0,-4.0,-5.5,-6.0,-5.5,-3.5,-2.0,-5.5,0.5,
4.0,3.0,1.5,2.5,2.0,5.5,10.0,12.5,10.0,7.5,
7.0,6.5,null,null,null,null];
const eSigma = {masIsba:0.4, masWghm:1.5, masNoah:0.5, shIsba:1.0, shWghm:1.5, shNoah:1.3};

// ---- d) PSD of TWS anomalies, period grid (years) ----
const dPeriod = [
0.1,0.2,0.3,0.4,0.5,0.6,0.7,0.8,0.9,1.0,
1.1,1.2,1.35,1.5,1.6,1.7,1.85,2.0,2.15,2.35,
2.5,2.75,3.0,3.15,3.3,3.45,3.6,3.8,4.0,4.5,
5.0,5.5,6.0,6.5,6.8,7.0,7.5,8.0,8.5,9.0,
9.5,10,10.5,11,11.5,12,12.5,13,13.5,14,
14.5,15,15.5,16];
const dMascons = [2,1,3,9,2,1,4,2,1,8, 2,6,12,3,8,2,4,15,3,12, 4,22,5,20,45,25,8,10,10,7, 5,5,6,8,10,12,15,20,35,60, 90,130,180,235,290,335,370,393,398,395, 385,372,360,345];
const dSh = [2,1,3,8,2,1,4,2,1,7, 2,6,13,3,8,2,4,16,3,13, 4,23,5,21,48,26,8,10,9,7, 5,5,6,8,10,12,14,18,28,45, 65,95,135,180,220,258,283,295,298,296, 288,280,270,260];
const dIsba = [1,1,2,3,1,1,2,1,1,3, 1,2,4,1,3,1,2,5,1,3, 2,5,3,6,10,8,4,5,5,4, 3,3,3,3,3,3,4,5,8,12, 18,25,31,35,38,40,41,41,40,39, 38,37,36,36];
const dWghm = [0,0,1,1,0,0,1,0,0,1, 0,1,1,0,1,0,1,1,0,1, 1,2,1,2,3,2,1,1,1,1, 1,1,1,1,1,1,1,2,5,12, 18,24,28,30,31,32,32,33,33,33, 33,33,33,32];
const dNoah = [2,3,2,4,3,2,5,3,4,6, 3,5,6,4,5,3,5,6,4,6, 5,8,6,7,8,7,6,5,5,7, 10,12,33,45,47,46,42,37,33,30, 29,28,27,24,18,12,8,6,5,6, 9,14,21,28];
const dBandPeriod = [5.0,5.5,6.0,6.5,6.8,7.0,7.5,8.0,8.5,9.0, 9.5,10,10.5,11,11.5,12,12.5,13,13.5,14, 14.5,15,15.5,16];
const dMasconsHi = [7,7,8,10,12,14,18,24,40,67, 100,143,195,252,308,353,390,410,415,412, 402,390,378,363];
const dMasconsLo = [3,3,4,6,8,10,12,16,30,53, 80,118,166,220,273,318,352,377,383,380, 370,356,343,328];
const dShHi = [7,7,8,10,12,14,17,22,34,55, 82,120,165,212,265,310,350,380,395,400, 395,385,370,355];
const dShLo = [3,3,4,6,8,10,11,14,22,35, 50,75,108,148,178,208,225,232,233,232, 225,215,208,200];

// ---- f) PSD of residual TWS anomalies ----
const fPeriod = [
0.1,0.2,0.3,0.4,0.5,0.6,0.7,0.8,0.9,1.0,
1.1,1.2,1.35,1.5,1.7,2.0,2.3,2.5,2.75,3.0,
3.15,3.3,3.5,3.8,4.2,4.6,5.0,5.5,6.0,6.3,
6.6,7.0,7.3,7.6,8.0,8.5,9.0,9.5,10.0,10.5,
11.0,11.5,12.0,12.5,13.0,13.5,14.0,14.5,15.0,15.5,
16.0];
const fMasIsba = [1,0,1,2,0,1,1,1,0,2, 1,1,0,1,1,2,3,2,2,2, 3,4,3,2,2,2,2,2,2,2, 2,3,6,12,28,45,65,95,125,155, 180,205,225,243,258,268,276,282,285,287, 288];
const fMasWghm = [1,0,1,2,0,1,1,2,0,3, 1,2,0,1,1,3,4,2,3,2, 3,4,3,2,2,2,2,2,2,2, 2,3,6,12,28,50,80,115,155,190, 222,248,268,283,293,298,300,299,297,294, 290];
const fMasNoah = [3,1,5,8,2,4,3,6,2,12, 3,6,2,4,3,6,8,4,15,5, 25,40,30,15,17,13,12,13,28,50, 60,45,22,6,2,25,80,160,233,295, 348,380,386,372,342,318,297,275,250,235, 222];
const fShIsba = [1,0,1,2,0,1,1,1,0,2, 1,1,0,1,1,2,3,2,2,2, 3,5,4,3,3,2,2,2,2,2, 2,3,5,10,20,35,50,68,85,103, 120,136,150,165,178,186,192,195,197,198, 198];
const fShWghm = [1,0,1,2,0,1,1,2,0,3, 1,2,0,1,1,3,4,2,3,2, 3,4,3,2,2,2,2,2,2,2, 2,3,5,11,25,42,60,80,100,120, 140,156,170,181,190,196,200,202,203,202, 200];
const fShNoah = [2,1,4,7,2,3,3,5,2,10, 3,5,2,4,3,5,7,4,25,6, 22,45,32,16,22,15,15,14,25,42, 50,35,15,4,0,25,70,130,190,240, 275,293,297,290,272,250,225,205,188,175, 167];
const fBandPeriod = [6.6,7.0,7.3,7.6,8.0,8.5,9.0,9.5,10.0,10.5, 11.0,11.5,12.0,12.5,13.0,13.5,14.0,14.5,15.0,15.5, 16.0];
const fMasIsbaHi = [3,4,8,15,32,52,75,110,145,180, 210,235,255,273,290,302,310,316,318,320, 320];
const fMasIsbaLo = [1,2,4,9,24,38,55,80,105,130, 150,175,195,212,225,235,245,250,252,254, 255];
const fMasWghmHi = [3,4,8,15,33,58,92,132,178,218, 250,275,295,310,320,326,330,330,328,325, 322];
const fMasWghmLo = [1,2,4,9,23,42,68,98,132,162, 195,220,240,255,265,268,270,270,270,268, 265];
const fMasNoahHi = [65,50,26,9,4,32,92,185,262,330, 390,410,412,400,370,345,325,310,300,290, 280];
const fMasNoahLo = [54,40,18,3,0,18,62,135,205,262, 310,348,360,345,312,285,265,230,195,170, 150];
const fShIsbaHi = [3,4,7,13,25,42,62,82,102,125, 145,165,185,200,215,225,235,240,244,246, 248];
const fShIsbaLo = [1,2,3,7,15,28,38,52,65,77, 90,100,110,122,135,145,150,150,148,145, 140];
const fShWghmHi = [3,4,7,14,30,50,72,98,122,148, 172,190,205,218,228,235,240,242,242,241, 240];
const fShWghmLo = [1,2,3,8,20,34,48,62,78,92, 108,125,138,150,158,163,165,165,163,162, 160];
const fShNoahHi = [56,42,20,8,3,35,100,190,260,320, 350,365,372,365,335,310,280,250,225,218, 215];
const fShNoahLo = [44,28,10,1,0,15,45,85,130,170, 200,215,220,218,210,195,180,165,150,135, 122];

// ================= BUILD =================
const FONT = 'DejaVu Sans';
const TXT = '#1a1a1a';
const fmtNum = v => (v < 0 ? '\u2212' : '') + Math.abs(v);

function zip(ts, vs) { return ts.map((t, i) => (vs[i] == null ? [t, '-'] : [t, vs[i]])); }
function fromPairs(ps) { let last = 0; return ps.map(p => { if (p === null) return [last + 0.001, '-']; last = p[0]; return p; }); }
function segsFromPairs(ps, s) {
  const segs = []; let cur = [];
  ps.forEach(p => { if (p === null) { if (cur.length > 1) segs.push(cur); cur = []; } else cur.push([p[0], p[1] - s, p[1] + s]); });
  if (cur.length > 1) segs.push(cur); return segs;
}
function segsFromGrid(ts, vs, s) {
  const segs = []; let cur = [];
  ts.forEach((t, i) => { const v = vs[i]; if (v == null) { if (cur.length > 1) segs.push(cur); cur = []; } else cur.push([t, v - s, v + s]); });
  if (cur.length > 1) segs.push(cur); return segs;
}
function segsHiLo(ts, lo, hi) { return [ts.map((t, i) => [t, lo[i], hi[i]])]; }

function line(name, gi, data, color, width, z) {
  return { type: 'line', name, xAxisIndex: gi, yAxisIndex: gi, data, symbol: 'none', showSymbol: false,
    lineStyle: { color, width: width || 1.5 }, itemStyle: { color }, z: z || 3, animation: false, silent: true, clip: true };
}
function band(gi, segs, fill, anchor) {
  return { type: 'custom', xAxisIndex: gi, yAxisIndex: gi, data: [anchor], silent: true, z: 1, animation: false, clip: true,
    renderItem: (params, api) => ({ type: 'group', children: segs.map(seg => ({
      type: 'polygon',
      shape: { points: seg.map(p => api.coord([p[0], p[2]])).concat(seg.slice().reverse().map(p => api.coord([p[0], p[1]]))) },
      style: { fill: fill }
    })) })
  };
}

const grids = [
  { left: 67, top: 28, width: 520, height: 212 },
  { left: 668, top: 28, width: 520, height: 212 },
  { left: 67, top: 293, width: 520, height: 213 },
  { left: 668, top: 293, width: 520, height: 213 },
  { left: 67, top: 559, width: 520, height: 212 },
  { left: 668, top: 559, width: 520, height: 213 }
].map(g => Object.assign({ show: true, borderColor: '#333', borderWidth: 1, containLabel: false, outerBoundsMode: 'none', backgroundColor: 'transparent' }, g));

const splitLine = { show: true, lineStyle: { color: '#d2d2d2', width: 1 } };
function timeX(gi, name) {
  return { type: 'value', gridIndex: gi, min: 2001.97, max: 2023.01,
    axisLine: { show: true, onZero: false, lineStyle: { color: '#333' } },
    axisTick: { show: true, customValues: yearTicks, length: 4, lineStyle: { color: '#333' } },
    axisLabel: { customValues: yearTicks, formatter: v => v.toFixed(1), fontSize: 10.5, fontFamily: FONT, color: TXT, margin: 6 },
    splitLine,
    name: name || '', nameLocation: 'middle', nameGap: 20,
    nameTextStyle: { fontSize: 16.5, fontWeight: 'bold', fontFamily: FONT, color: '#111' } };
}
function periodX(gi, name) {
  return { type: 'value', gridIndex: gi, min: 0, max: 16.2,
    axisLine: { show: true, onZero: false, lineStyle: { color: '#333' } },
    axisTick: { show: true, customValues: periodTicks, length: 4, lineStyle: { color: '#333' } },
    axisLabel: { customValues: periodTicks, fontSize: 13.5, fontFamily: FONT, color: TXT, margin: 6 },
    splitLine,
    name: name || '', nameLocation: 'middle', nameGap: 24,
    nameTextStyle: { fontSize: 16.5, fontWeight: 'bold', fontFamily: FONT, color: '#111' } };
}
function yAx(gi, min, max, ticks, name) {
  return { type: 'value', gridIndex: gi, min, max,
    axisLine: { show: true, lineStyle: { color: '#333' } },
    axisTick: { show: true, customValues: ticks, length: 4, lineStyle: { color: '#333' } },
    axisLabel: { customValues: ticks, formatter: fmtNum, fontSize: 14, fontFamily: FONT, color: TXT, margin: 7 },
    splitLine,
    name, nameLocation: 'middle', nameRotate: 90, nameGap: 35,
    nameTextStyle: { fontSize: 16.5, fontWeight: 'bold', fontFamily: FONT, color: '#111' } };
}

const C = { red: '#ff0000', mag: '#bf00bf', blue: '#0000ff', black: '#000000', green: '#008000', lgreen: '#1f8f1f', cyan: '#00bfbf', gray: '#808080', yel: '#bfbf00' };

const series = [];
// a)
series.push(line('a_gpcc', 0, zip(aTime, aGpcc), '#111', 1.6));
const aIm = line('a_imerg', 0, zip(aTime, aImerg), C.green, 1.6, 4);
aIm.markLine = { silent: true, symbol: ['none', 'none'], label: { show: false }, animation: false,
  lineStyle: { color: '#ff1a1a', width: 2, type: 'solid' }, data: [{ yAxis: 0 }] };
series.push(aIm);
// b)
series.push(line('GPCC', 1, bGpcc, '#222', 1.6));
series.push(line('IMERG', 1, bImerg, '#1f9a1f', 1.6, 4));
// c)
const cA = [2010, 0];
series.push(band(2, segsFromPairs(cMascons, cMasconsSigma), 'rgba(255,0,0,0.22)', cA));
series.push(band(2, segsFromPairs(cSh, cShSigma), 'rgba(191,0,191,0.25)', cA));
series.push(line('c_mascons', 2, fromPairs(cMascons), C.red, 1.7));
series.push(line('c_sh', 2, fromPairs(cSh), C.mag, 1.7));
series.push(line('c_isba', 2, fromPairs(cIsba), C.blue, 1.7));
series.push(line('c_wghm', 2, fromPairs(cWghm), '#111', 1.7));
series.push(line('c_noah', 2, fromPairs(cNoah), C.green, 1.7));
// d)
const dA = [8, 100];
series.push(band(3, segsHiLo(dBandPeriod, dShLo, dShHi), 'rgba(191,0,191,0.5)', dA));
series.push(band(3, segsHiLo(dBandPeriod, dMasconsLo, dMasconsHi), 'rgba(255,0,0,0.4)', dA));
series.push(line('GRACE mascons', 3, zip(dPeriod, dMascons), C.red, 1.6));
series.push(line('GRACE sh', 3, zip(dPeriod, dSh), C.mag, 1.6));
series.push(line('ISBA', 3, zip(dPeriod, dIsba), C.blue, 2.2));
series.push(line('WGHM', 3, zip(dPeriod, dWghm), '#222', 1.6));
series.push(line('NOAH', 3, zip(dPeriod, dNoah), C.lgreen, 1.6));
// e)
const eA = [2010, 0];
series.push(band(4, segsFromGrid(eTime, eMasWghm, eSigma.masWghm), 'rgba(0,0,0,0.22)', eA));
series.push(band(4, segsFromGrid(eTime, eShWghm, eSigma.shWghm), 'rgba(128,128,128,0.3)', eA));
series.push(band(4, segsFromGrid(eTime, eShIsba, eSigma.shIsba), 'rgba(0,191,191,0.3)', eA));
series.push(band(4, segsFromGrid(eTime, eShNoah, eSigma.shNoah), 'rgba(191,191,0,0.35)', eA));
series.push(band(4, segsFromGrid(eTime, eMasIsba, eSigma.masIsba), 'rgba(0,0,255,0.25)', eA));
series.push(band(4, segsFromGrid(eTime, eMasNoah, eSigma.masNoah), 'rgba(0,128,0,0.25)', eA));
series.push(line('e_masIsba', 4, zip(eTime, eMasIsba), C.blue, 1.6));
series.push(line('e_masWghm', 4, zip(eTime, eMasWghm), '#111', 1.6));
series.push(line('e_masNoah', 4, zip(eTime, eMasNoah), C.green, 1.6));
series.push(line('e_shIsba', 4, zip(eTime, eShIsba), C.cyan, 1.6));
series.push(line('e_shWghm', 4, zip(eTime, eShWghm), C.gray, 1.6));
series.push(line('e_shNoah', 4, zip(eTime, eShNoah), C.yel, 1.6));
// f)
const fA = [8, 100];
series.push(band(5, segsHiLo(fBandPeriod, fMasIsbaLo, fMasIsbaHi), 'rgba(0,0,160,0.35)', fA));
series.push(band(5, segsHiLo(fBandPeriod, fMasWghmLo, fMasWghmHi), 'rgba(0,0,0,0.3)', fA));
series.push(band(5, segsHiLo(fBandPeriod, fMasNoahLo, fMasNoahHi), 'rgba(0,128,0,0.45)', fA));
series.push(band(5, segsHiLo(fBandPeriod, fShIsbaLo, fShIsbaHi), 'rgba(0,191,191,0.45)', fA));
series.push(band(5, segsHiLo(fBandPeriod, fShWghmLo, fShWghmHi), 'rgba(128,128,128,0.4)', fA));
series.push(band(5, segsHiLo(fBandPeriod, fShNoahLo, fShNoahHi), 'rgba(191,191,0,0.5)', fA));
series.push(line('GRACE mascons - ISBA', 5, zip(fPeriod, fMasIsba), C.blue, 1.6));
series.push(line('GRACE mascons - WGHM', 5, zip(fPeriod, fMasWghm), '#111', 1.6));
series.push(line('GRACE mascons - NOAH', 5, zip(fPeriod, fMasNoah), C.lgreen, 1.6));
series.push(line('GRACE sh - ISBA', 5, zip(fPeriod, fShIsba), '#1fc0c0', 1.6));
series.push(line('GRACE sh - WGHM', 5, zip(fPeriod, fShWghm), C.gray, 1.6));
series.push(line('GRACE sh - NOAH', 5, zip(fPeriod, fShNoah), C.yel, 1.6));

function legend(left, top, names, orient, gap) {
  return { left, top, orient: orient || 'vertical', data: names, icon: 'rect', itemWidth: 30, itemHeight: 2,
    itemGap: gap == null ? 4 : gap, padding: 0, z: 10, selectedMode: false,
    textStyle: { fontSize: 14.5, fontFamily: FONT, color: '#222', lineHeight: 18, padding: [0, 0, 0, 6] } };
}
const titleStyle = { fontSize: 16.5, fontWeight: 'bold', fontFamily: FONT, color: '#111' };
const titles = [
  ['a) Zambezi - Okavango: non-seasonnal precipitation', 327, 5],
  ['b) Power Spectral Density of non-seasonnal precipitation', 928, 5],
  ['c) Zambezi - Okavango: TWS anomalies', 327, 272],
  ['d) Power Spectral Density of TWS anomalies', 928, 272],
  ['e) Zambezi - Okavango: residual TWS anomalies', 327, 536],
  ['f) PSD Spectral Density of residual TWS anomalies', 928, 536]
].map(t => ({ text: t[0], left: t[1], top: t[2], textAlign: 'center', padding: 0, textStyle: titleStyle }));

const option = {
  animation: false,
  backgroundColor: '#ffffff',
  title: titles,
  grid: grids,
  xAxis: [timeX(0), periodX(1), timeX(2), periodX(3), timeX(4, 'Time(years)'), periodX(5, 'Periods (years)')],
  yAxis: [
    yAx(0, -8.42, 7.36, aTicks, 'EWH (cm)'),
    yAx(1, 0, 12, bTicks, 'Power (cm\u00b2)'),
    yAx(2, -14.23, 14.77, cTicks, 'EWH (cm)'),
    yAx(3, 0, 597, dTicks, 'Power (cm\u00b2)'),
    yAx(4, -15, 17.06, eTicks, 'EWH (cm)'),
    yAx(5, 0, 599, fTicks, 'PSD (cm\u00b2)')
  ],
  legend: [
    legend(974, 37, ['GPCC', 'IMERG'], 'horizontal', 28),
    legend(680, 303, ['GRACE mascons', 'GRACE sh', 'ISBA']),
    legend(871, 303, ['WGHM', 'NOAH']),
    legend(745, 569, ['GRACE mascons - ISBA', 'GRACE mascons - WGHM', 'GRACE mascons - NOAH']),
    legend(997, 569, ['GRACE sh - ISBA', 'GRACE sh - WGHM', 'GRACE sh - NOAH'])
  ],
  graphic: [
    { type: 'rect', left: 969, top: 33, z: 5, shape: { width: 212, height: 28, r: 3 }, style: { fill: 'rgba(255,255,255,0.8)', stroke: '#cccccc', lineWidth: 1 } },
    { type: 'rect', left: 675, top: 297, z: 5, shape: { width: 292, height: 73, r: 3 }, style: { fill: 'rgba(255,255,255,0.8)', stroke: '#cccccc', lineWidth: 1 } },
    { type: 'rect', left: 739, top: 566, z: 5, shape: { width: 442, height: 70, r: 3 }, style: { fill: 'rgba(255,255,255,0.8)', stroke: '#cccccc', lineWidth: 1 } }
  ],
  series
};
const chart = echarts.init(document.getElementById('c'), null, { renderer: 'canvas', width: 1212, height: 816 });
chart.setOption(option);
</script></body></html>
